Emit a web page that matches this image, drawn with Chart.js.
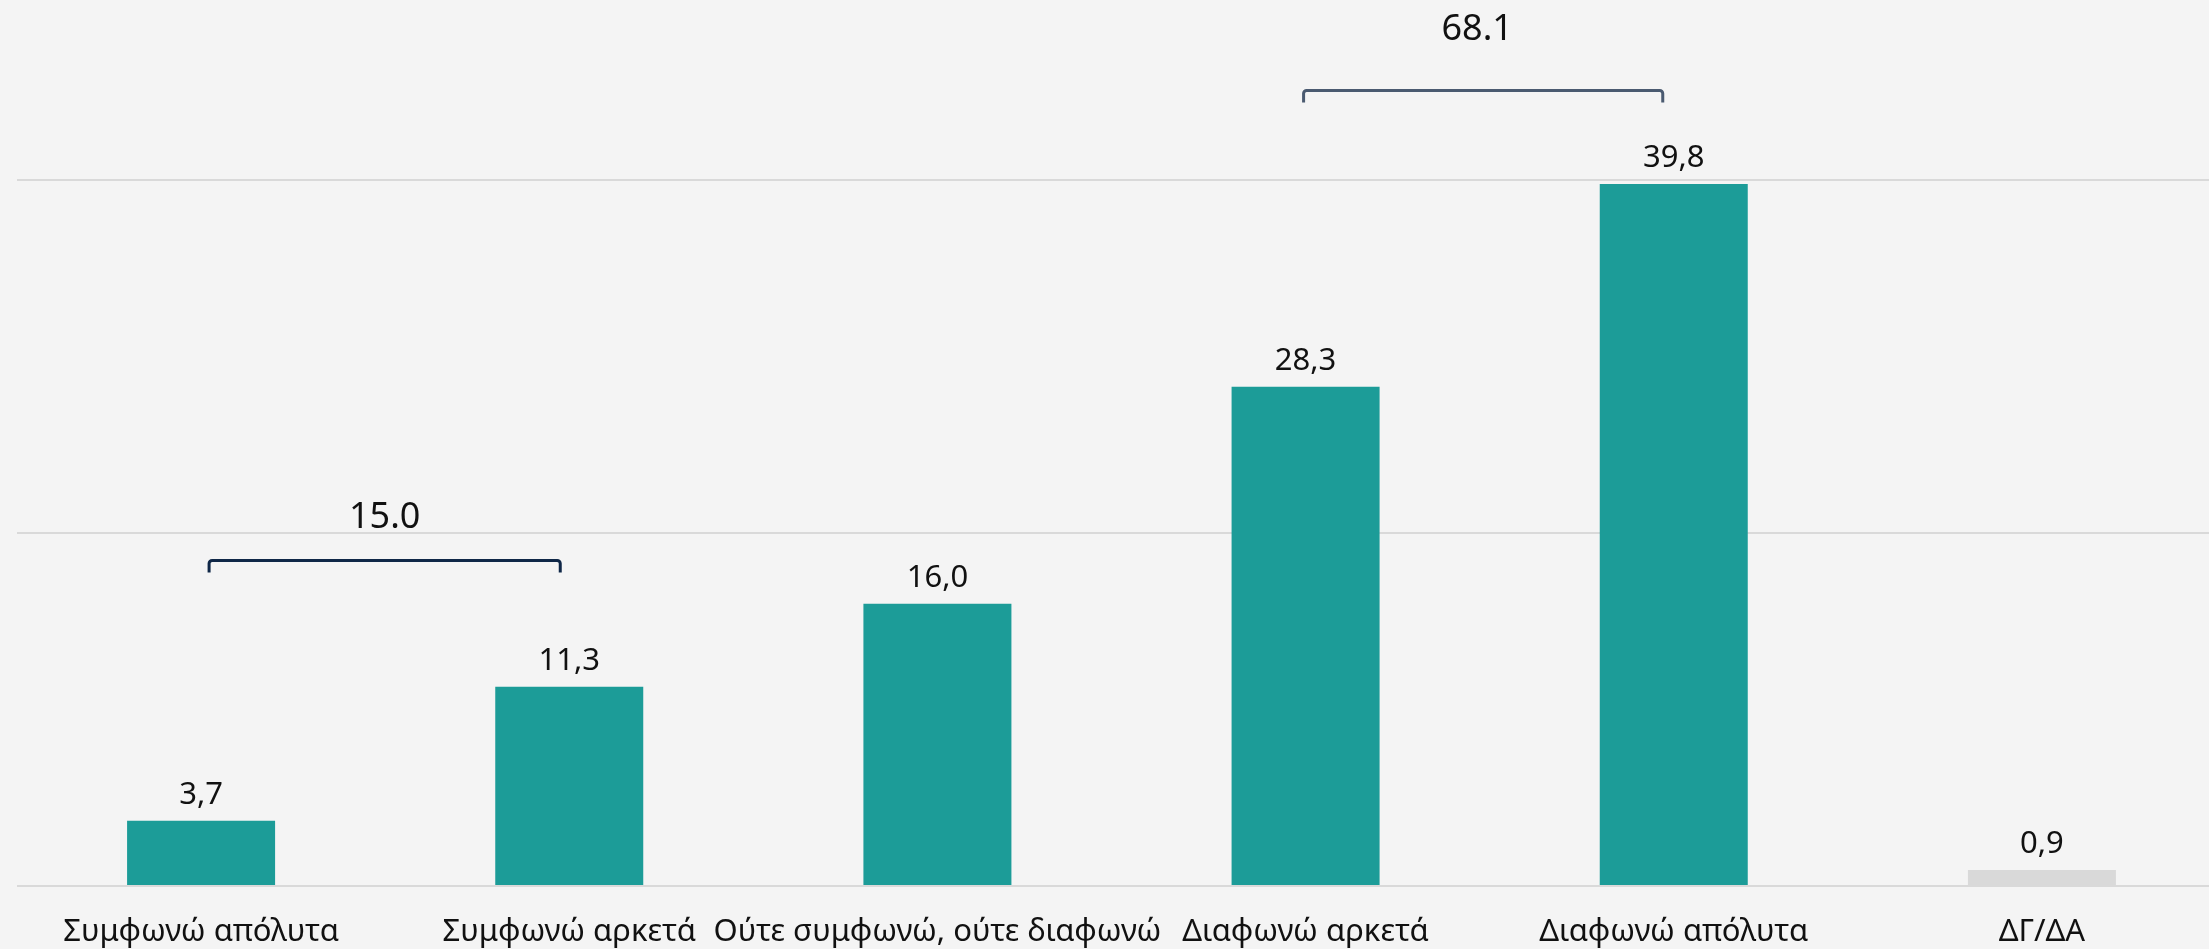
<!DOCTYPE html>
<html>
<head>
<meta charset="utf-8">
<script src="https://cdn.jsdelivr.net/npm/chart.js@4.4.1/dist/chart.umd.min.js"></script>
<style>
  html, body { margin: 0; padding: 0; background: #f4f4f4; }
  #wrap { width: 2209px; height: 949px; position: relative; }
</style>
</head>
<body>
<div id="wrap"><canvas id="chart"></canvas></div>
<script>
// Chart data
const categories = ['Συμφωνώ απόλυτα', 'Συμφωνώ αρκετά', 'Ούτε συμφωνώ, ούτε διαφωνώ', 'Διαφωνώ αρκετά', 'Διαφωνώ απόλυτα', 'ΔΓ/ΔΑ'];
const values = [3.7, 11.3, 16.0, 28.3, 39.8, 0.9];
const gridTicks = [0, 20, 40];

// Grouped totals shown above the brackets
const groupFrom = [0, 3];
const groupTo = [1, 4];
const groupTotals = [15.0, 68.1];

const FONT = '"Noto Sans", "DejaVu Sans", sans-serif';
const TEAL = '#1c9c98';
const GREY = '#d9d9d9';

// the category axis runs a little past the right edge of the canvas
const stretchX = {
  id: 'stretchX',
  afterLayout(chart, args, opts) {
    const x = chart.scales.x;
    x.right += opts.extra;
    x.width += opts.extra;
    x.configure();
  }
};

// value labels above each bar
const valueLabels = {
  id: 'valueLabels',
  afterDatasetsDraw(chart) {
    const { ctx } = chart;
    const meta = chart.getDatasetMeta(0);
    ctx.save();
    ctx.font = '31px ' + FONT;
    ctx.fillStyle = '#111';
    ctx.textAlign = 'center';
    ctx.textBaseline = 'bottom';
    meta.data.forEach((bar, i) => {
      ctx.fillText(values[i].toFixed(1).replace('.', ','), bar.x, bar.y - 10);
    });
    ctx.restore();
  }
};

// brackets with group totals
const brackets = {
  id: 'brackets',
  afterDatasetsDraw(chart, args, opts) {
    const { ctx, scales: { x, y } } = chart;
    ctx.save();
    groupFrom.forEach((from, i) => {
      const style = opts.styles[i];
      const x1 = x.getPixelForValue(from) + style.dx1;
      const x2 = x.getPixelForValue(groupTo[i]) + style.dx2;
      const yy = y.getPixelForValue(style.level);
      const r = 3;
      ctx.strokeStyle = style.color;
      ctx.lineWidth = 3;
      ctx.lineJoin = 'round';
      ctx.beginPath();
      ctx.moveTo(x1, yy + 12);
      ctx.lineTo(x1, yy + r);
      ctx.arcTo(x1, yy, x1 + r, yy, r);
      ctx.lineTo(x2 - r, yy);
      ctx.arcTo(x2, yy, x2, yy + r, r);
      ctx.lineTo(x2, yy + 12);
      ctx.stroke();

      ctx.font = '36px ' + FONT;
      ctx.fillStyle = '#111';
      ctx.textAlign = 'center';
      ctx.textBaseline = 'middle';
      ctx.fillText(groupTotals[i].toFixed(1), (x1 + x2) / 2 - style.textShift, yy - style.gap);
    });
    ctx.restore();
  }
};

new Chart(document.getElementById('chart'), {
  type: 'bar',
  data: {
    labels: categories,
    datasets: [{
      data: values,
      backgroundColor: values.map((_, i) => i === values.length - 1 ? GREY : TEAL),
      borderWidth: 0,
      barPercentage: 0.402,
      categoryPercentage: 1
    }]
  },
  options: {
    responsive: true,
    maintainAspectRatio: false,
    animation: false,
    devicePixelRatio: 1,
    layout: { padding: { top: 4, left: 17, right: 0, bottom: 0 } },
    plugins: {
      legend: { display: false },
      tooltip: { enabled: false },
      stretchX: { extra: 17 },
      brackets: {
        styles: [
          { level: 18.45, gap: 43, dx1: 8, dx2: -9, textShift: 0, color: '#0f2747' },
          { level: 45.1, gap: 61, dx1: -2, dx2: -11, textShift: 6, color: '#4a5a70' }
        ]
      }
    },
    scales: {
      x: {
        grid: { display: false, drawTicks: false },
        border: { display: false },
        afterFit(scale) { scale.height = 63; },
        ticks: {
          color: '#111',
          font: { family: FONT, size: 31 },
          padding: 28,
          maxRotation: 0,
          autoSkip: false
        }
      },
      y: {
        min: 0,
        max: 50,
        afterBuildTicks(scale) {
          scale.ticks = gridTicks.map(v => ({ value: v }));
        },
        grid: { color: GREY, lineWidth: 2, drawTicks: false },
        border: { display: false },
        ticks: { display: false }
      }
    }
  },
  plugins: [stretchX, valueLabels, brackets]
});
</script>
</body>
</html>
